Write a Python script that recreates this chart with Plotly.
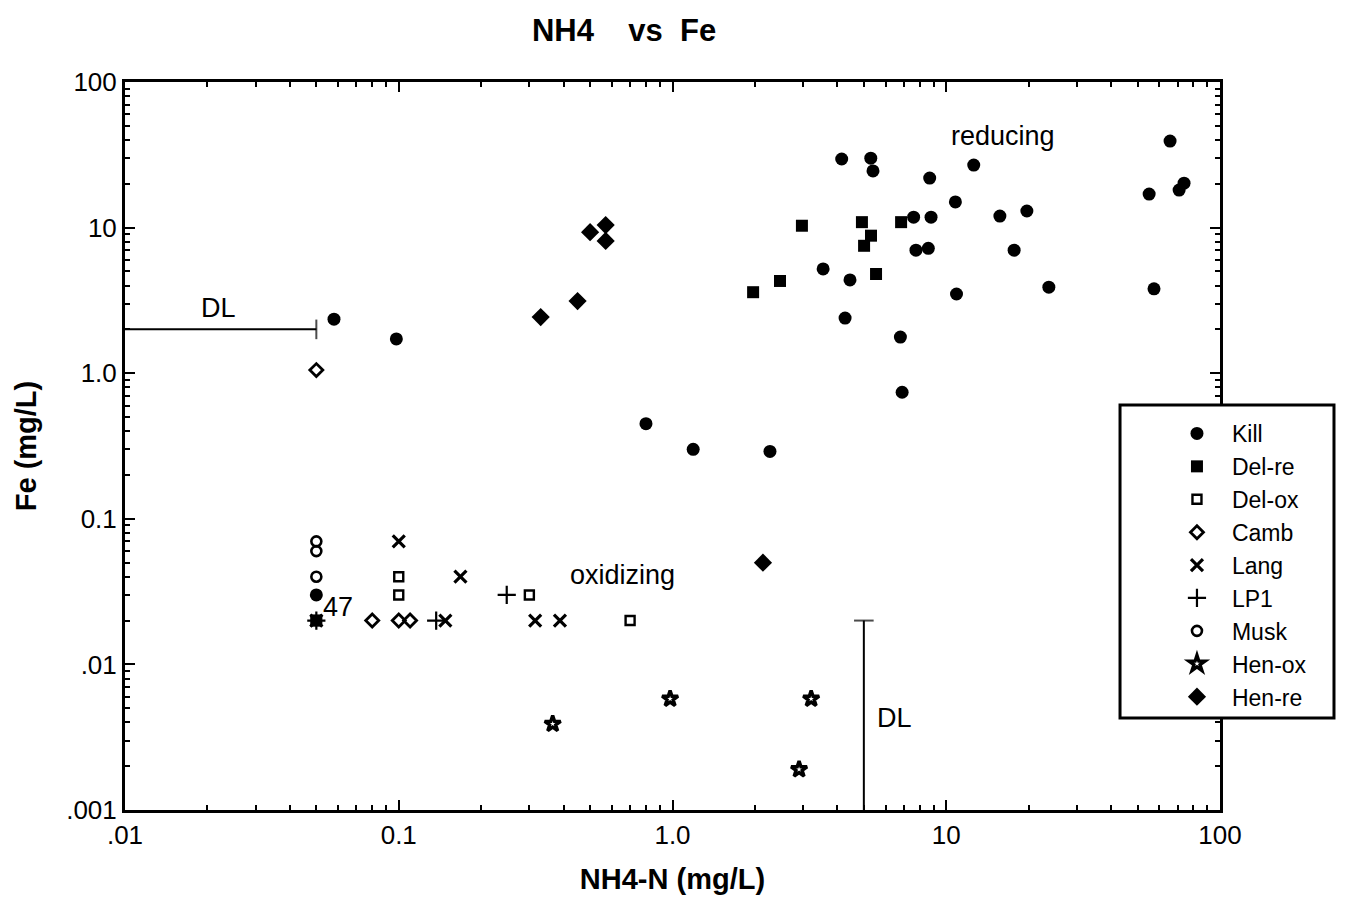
import plotly.graph_objects as go

# ---------------- data (NH4-N mg/L, Fe mg/L) ----------------
kill_x = [4.15, 5.3, 5.4, 8.7, 12.6, 65.7, 73.9, 70.9, 55.1, 10.8, 7.6, 8.8, 15.7, 19.7,
          7.75, 8.6, 17.7, 3.55, 4.45, 10.9, 23.7, 57.4, 4.27, 6.8, 6.9,
          0.058, 0.098, 0.80, 1.19, 2.27, 0.05]
kill_y = [29.6, 30.0, 24.5, 21.9, 26.9, 39.3, 20.2, 18.1, 17.0, 15.0, 11.8, 11.8, 12.0, 13.0,
          7.0, 7.2, 7.0, 5.2, 4.37, 3.5, 3.9, 3.8, 2.39, 1.77, 0.74,
          2.35, 1.72, 0.45, 0.30, 0.29, 0.03]

delre_x = [2.97, 4.92, 6.84, 5.31, 5.01, 5.54, 2.47, 1.97, 0.05]
delre_y = [10.3, 10.9, 10.9, 8.8, 7.5, 4.8, 4.3, 3.6, 0.02]

delox_x = [0.1, 0.1, 0.30, 0.70, 0.05]
delox_y = [0.04, 0.03, 0.03, 0.02, 0.02]

camb_x = [0.05, 0.08, 0.1, 0.11]
camb_y = [1.05, 0.02, 0.02, 0.02]

lang_x = [0.1, 0.168, 0.148, 0.315, 0.388, 0.05]
lang_y = [0.07, 0.04, 0.02, 0.02, 0.02, 0.02]

lp1_x = [0.248, 0.137, 0.05]
lp1_y = [0.03, 0.02, 0.02]

musk_x = [0.05, 0.05, 0.05]
musk_y = [0.07, 0.06, 0.04]

henox_x = [0.365, 0.98, 3.21, 2.9]
henox_y = [0.0039, 0.0058, 0.0058, 0.0019]

henre_x = [0.50, 0.57, 0.57, 0.45, 0.33, 2.14]
henre_y = [9.3, 10.4, 8.1, 3.13, 2.43, 0.05]

# detection limits
dl_fe_x = [0.01, 0.05]
dl_fe_y = [2.0, 2.0]
dl_nh4_x = [5.0, 5.0]
dl_nh4_y = [0.001, 0.02]

x_tickvals = [0.01, 0.1, 1, 10, 100]
x_ticktext = [".01", "0.1", "1.0", "10", "100"]
y_tickvals = [0.001, 0.01, 0.1, 1, 10, 100]
y_ticktext = [".001", ".01", "0.1", "1.0", "10", "100"]

FONT = "Liberation Sans, Arial, sans-serif"
BLK = "black"

fig = go.Figure()

def add(name, x, y, symbol, size, lw=0, color=BLK):
    fig.add_trace(go.Scatter(
        x=x, y=y, mode="markers", name=name,
        marker=dict(symbol=symbol, size=size, color=color,
                    line=dict(color=BLK, width=lw)),
    ))

add("Kill", kill_x, kill_y, "circle", 13, 0)
add("Del-re", delre_x, delre_y, "square", 12, 0)
add("Del-ox", delox_x, delox_y, "square-open", 9, 2.4)
add("Camb", camb_x, camb_y, "diamond-open", 10, 2.8)
add("Lang", lang_x, lang_y, "x-thin-open", 12, 3.2)
add("LP1", lp1_x, lp1_y, "cross-thin-open", 13, 2.2)
add("Musk", musk_x, musk_y, "circle-open", 10, 2.6)
add("Hen-ox", henox_x, henox_y, "star-open", 12, 3.4)
add("Hen-re", henre_x, henre_y, "diamond", 14, 0)

# DL lines
fig.add_trace(go.Scatter(
    x=dl_fe_x, y=dl_fe_y, mode="lines+markers", showlegend=False, hoverinfo="skip",
    line=dict(color=BLK, width=2),
    marker=dict(symbol="line-ns", size=[0, 14], color=BLK, line=dict(color=BLK, width=2)),
))
fig.add_trace(go.Scatter(
    x=dl_nh4_x, y=dl_nh4_y, mode="lines+markers", showlegend=False, hoverinfo="skip",
    line=dict(color=BLK, width=2),
    marker=dict(symbol="line-ew", size=[0, 14], color=BLK, line=dict(color=BLK, width=2)),
))

annot_font = dict(family=FONT, size=27, color=BLK)
fig.add_annotation(x=-1.66, y=0.45, xref="x", yref="y", text="DL", showarrow=False, font=annot_font)
fig.add_annotation(x=0.81, y=-2.37, xref="x", yref="y", text="DL", showarrow=False, font=annot_font)
fig.add_annotation(x=1.207, y=1.63, xref="x", yref="y", text="reducing", showarrow=False, font=annot_font)
fig.add_annotation(x=-0.184, y=-1.386, xref="x", yref="y", text="oxidizing", showarrow=False, font=annot_font)
fig.add_annotation(x=-1.222, y=-1.606, xref="x", yref="y", text="47", showarrow=False, font=annot_font)

minor_vals = [m * 10 ** e for e in range(-3, 2) for m in range(2, 10)]

axis_common = dict(
    type="log", showgrid=False, zeroline=False,
    showline=True, linecolor=BLK, linewidth=3, mirror="allticks",
    ticks="inside", ticklen=10, tickwidth=2, tickcolor=BLK,
    tickfont=dict(family=FONT, size=26, color=BLK),
    minor=dict(ticks="inside", ticklen=5, tickwidth=1.5, tickcolor=BLK,
               tickvals=minor_vals, showgrid=False),
)

fig.update_xaxes(**axis_common, range=[-2, 2], tickvals=x_tickvals, ticktext=x_ticktext,
                 title=dict(text="<b>NH4-N (mg/L)</b>", font=dict(family=FONT, size=29, color=BLK),
                            standoff=20))
fig.update_yaxes(**axis_common, range=[-3, 2], tickvals=y_tickvals, ticktext=y_ticktext,
                 title=dict(text="<b>Fe (mg/L)</b>", font=dict(family=FONT, size=29, color=BLK),
                            standoff=22))

# legend frame
fig.add_shape(type="rect", xref="paper", yref="paper",
              x0=0.9087, x1=1.1041, y0=0.1264, y1=0.5563,
              line=dict(color=BLK, width=3), fillcolor="white", layer="above")

fig.update_layout(
    width=1346, height=900,
    margin=dict(l=117, r=134, t=74, b=98),
    paper_bgcolor="white", plot_bgcolor="white",
    title=dict(text="<b>NH4    vs  Fe</b>", x=0.4577, xanchor="center", y=0.9756, yanchor="middle",
               font=dict(family=FONT, size=31, color=BLK)),
    legend=dict(x=0.947, y=0.5467, xanchor="left", yanchor="top",
                bgcolor="rgba(0,0,0,0)", borderwidth=0,
                font=dict(family=FONT, size=23, color=BLK),
                itemwidth=60, tracegroupgap=0),
    showlegend=True,
)

fig.write_html("out.html")
